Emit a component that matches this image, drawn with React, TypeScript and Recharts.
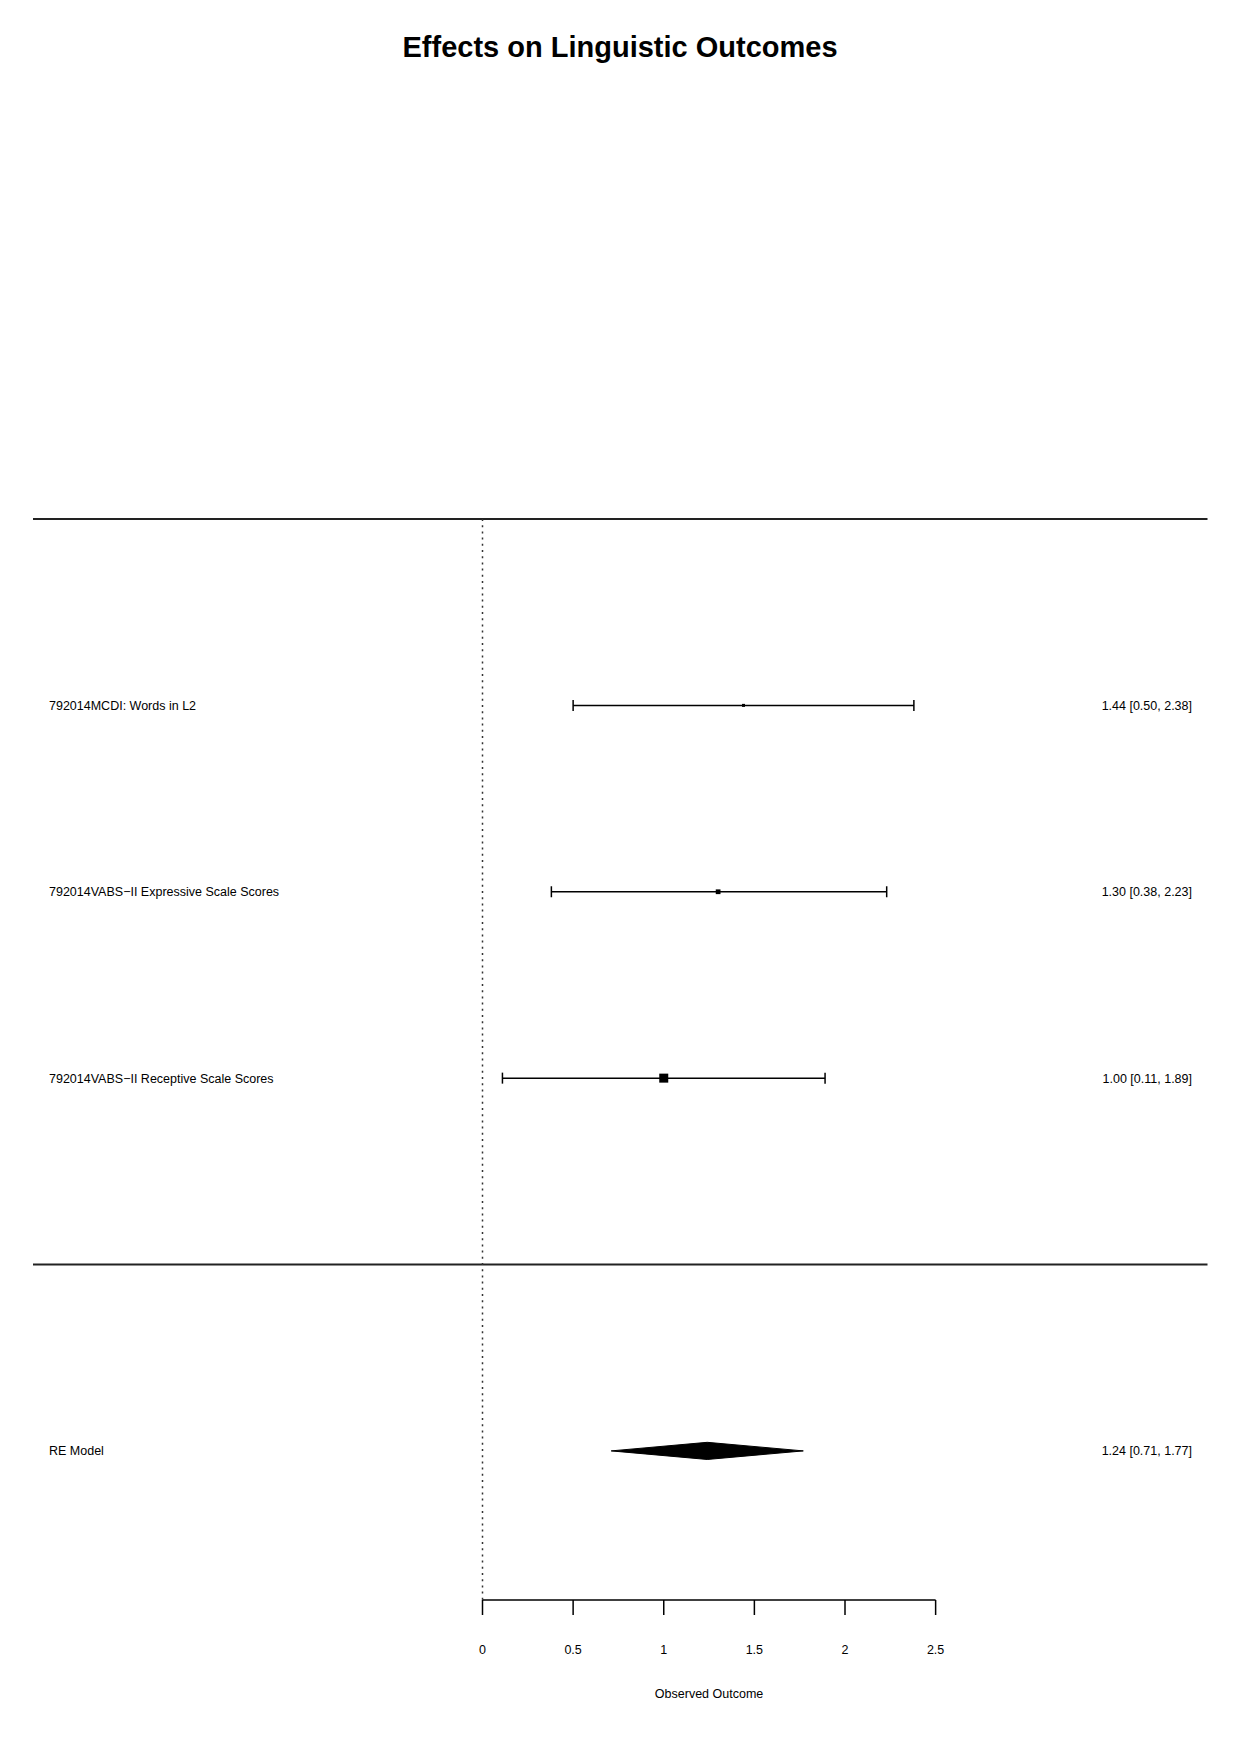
import {
  ComposedChart,
  XAxis,
  YAxis,
  Scatter,
  ErrorBar,
  Area,
  ReferenceLine,
  Label,
} from "recharts";

// forest plot: three outcomes from one study + random-effects summary
const studies = [
  "792014MCDI: Words in L2",
  "792014VABS\u2212II Expressive Scale Scores",
  "792014VABS\u2212II Receptive Scale Scores",
];
const estimates = [1.44, 1.3, 1.0];
const ciLower = [0.5, 0.38, 0.11];
const ciUpper = [2.38, 2.23, 1.89];
const studyRows = [3, 2, 1];

const summaryLabel = "RE Model";
const summaryEst = 1.24;
const summaryLo = 0.71;
const summaryHi = 1.77;
const summaryRow = -1;

const xTicks = [0, 0.5, 1, 1.5, 2, 2.5];

const FONT = '"Liberation Sans", Arial, Helvetica, sans-serif';
const X_DOMAIN: [number, number] = [-2.48, 4.0];
const Y_DOMAIN: [number, number] = [-1.8, 4];
const MIN_SQ = 3;
const MAX_SQ = 9;
const DIAMOND_HALF = 0.046;
const TEXT_SIZE = 12.5;

const fmt = (e: number, l: number, h: number) =>
  `${e.toFixed(2)} [${l.toFixed(2)}, ${h.toFixed(2)}]`;

// square size scaled like metafor: by 1/se, min..max
const wi = estimates.map((_, i) => 3.92 / (ciUpper[i] - ciLower[i]));
const wMin = Math.min(...wi);
const wMax = Math.max(...wi);

const studyData = studies.map((name, i) => ({
  name,
  x: estimates[i],
  y: studyRows[i],
  err: [estimates[i] - ciLower[i], ciUpper[i] - estimates[i]],
  psize: (wi[i] - wMin) / (wMax - wMin),
}));

const diamondData = [
  { x: summaryLo, band: [summaryRow, summaryRow] },
  { x: summaryEst, band: [summaryRow - DIAMOND_HALF, summaryRow + DIAMOND_HALF] },
  { x: summaryHi, band: [summaryRow, summaryRow] },
];

const leftText: Record<number, string> = { [summaryRow]: summaryLabel };
const rightText: Record<number, string> = {
  [summaryRow]: fmt(summaryEst, summaryLo, summaryHi),
};
studies.forEach((s, i) => {
  leftText[studyRows[i]] = s;
  rightText[studyRows[i]] = fmt(estimates[i], ciLower[i], ciUpper[i]);
});
const labelRows = [...studyRows, summaryRow];

const Square = (props: any) => {
  const { cx, cy, payload } = props;
  const s = MIN_SQ + payload.psize * (MAX_SQ - MIN_SQ);
  return <rect x={cx - s / 2} y={cy - s / 2} width={s} height={s} fill="#000" />;
};

export default function App() {
  return (
    <div
      style={{
        position: "absolute",
        left: 0,
        top: 0,
        width: 1240,
        height: 1753,
        background: "#fff",
        fontFamily: FONT,
      }}
    >
      <div
        style={{
          position: "absolute",
          left: 0,
          top: 33,
          width: 1240,
          textAlign: "center",
          fontSize: 29,
          fontWeight: 700,
          lineHeight: "29px",
          color: "#000",
        }}
      >
        Effects on Linguistic Outcomes
      </div>
      <ComposedChart
        width={1240}
        height={1753}
        margin={{ top: 519, right: 32.5, bottom: 53, left: 33 }}
        style={{ fontFamily: FONT }}
      >
        <XAxis
          type="number"
          dataKey="x"
          domain={X_DOMAIN}
          allowDataOverflow
          ticks={xTicks}
          interval={0}
          axisLine={false}
          tickSize={15}
          tickMargin={30}
          height={100}
          tickLine={{ stroke: "#000", strokeWidth: 1.5 }}
          tick={{ fill: "#000", fontSize: TEXT_SIZE }}
        />
        <YAxis
          yAxisId="left"
          type="number"
          dataKey="y"
          domain={Y_DOMAIN}
          allowDataOverflow
          ticks={labelRows}
          interval={0}
          mirror
          width={500}
          axisLine={false}
          tickLine={false}
          tickSize={0}
          tickMargin={16}
          tickFormatter={(v: number) => leftText[v] ?? ""}
          tick={{ fill: "#000", fontSize: TEXT_SIZE }}
        />
        <YAxis
          yAxisId="right"
          orientation="right"
          type="number"
          dataKey="y"
          domain={Y_DOMAIN}
          allowDataOverflow
          ticks={labelRows}
          interval={0}
          mirror
          width={500}
          axisLine={false}
          tickLine={false}
          tickSize={0}
          tickMargin={15.5}
          tickFormatter={(v: number) => rightText[v] ?? ""}
          tick={{ fill: "#000", fontSize: TEXT_SIZE }}
        />
        <ReferenceLine yAxisId="left" y={Y_DOMAIN[1]} stroke="#222" strokeWidth={2} />
        <ReferenceLine yAxisId="left" y={0} stroke="#222" strokeWidth={2} />
        <ReferenceLine
          yAxisId="left"
          segment={[
            { x: 0, y: Y_DOMAIN[1] },
            { x: 0, y: Y_DOMAIN[0] },
          ]}
          stroke="#333"
          strokeWidth={1.5}
          strokeDasharray="2 4.2"
        />
        <ReferenceLine
          yAxisId="left"
          segment={[
            { x: xTicks[0], y: Y_DOMAIN[0] },
            { x: xTicks[xTicks.length - 1], y: Y_DOMAIN[0] },
          ]}
          stroke="#000"
          strokeWidth={1.5}
        >
          <Label value="Observed Outcome" position="bottom" offset={89} fill="#000" fontSize={TEXT_SIZE} />
        </ReferenceLine>
        <Area
          yAxisId="left"
          data={diamondData}
          dataKey="band"
          type="linear"
          stroke="#000"
          strokeWidth={1}
          fill="#000"
          fillOpacity={1}
          dot={false}
          activeDot={false}
          isAnimationActive={false}
        />
        <Scatter
          yAxisId="left"
          data={studyData}
          shape={Square}
          isAnimationActive={false}
        >
          <ErrorBar
            dataKey="err"
            direction="x"
            width={5.5}
            stroke="#000"
            strokeWidth={1.5}
            isAnimationActive={false}
          />
        </Scatter>
      </ComposedChart>
    </div>
  );
}
